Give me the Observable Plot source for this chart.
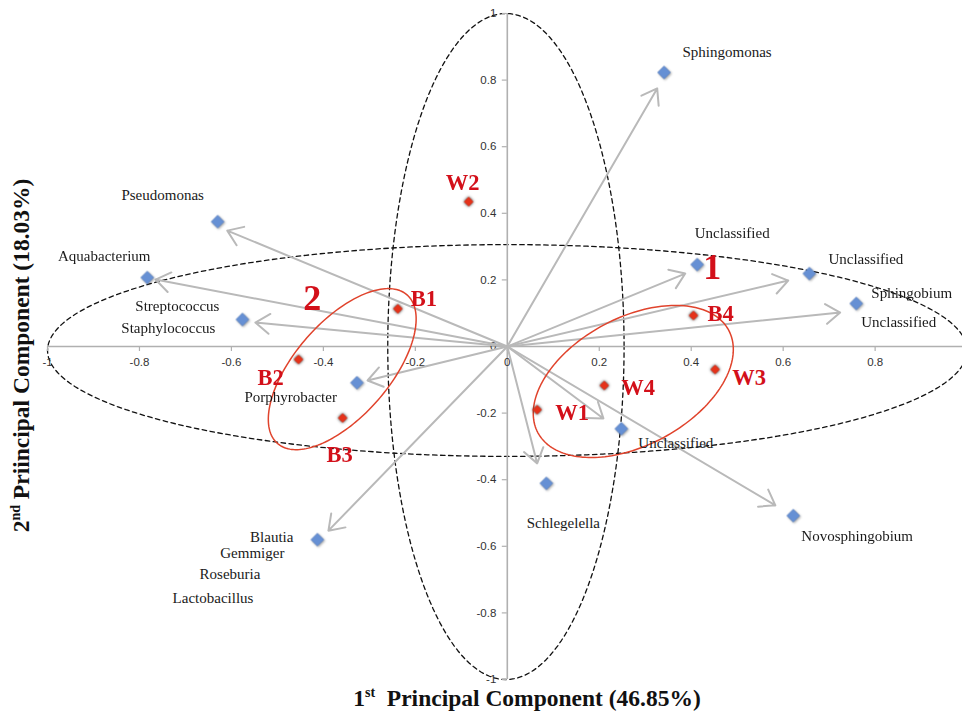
<!DOCTYPE html>
<html>
<head>
<meta charset="utf-8">
<script src="https://cdn.jsdelivr.net/npm/d3@7"></script>
<script src="https://cdn.jsdelivr.net/npm/@observablehq/plot@0.6"></script>
<style>
  html, body { margin: 0; padding: 0; background: #fff; }
  #chart svg { display: block; }
</style>
</head>
<body>
<div id="chart"></div>
<script>
// PCA biplot: sample scores (red) and genus loadings (blue) on the first two components

// sample scores
const sampleNames = ["W1", "W2", "W3", "W4", "B1", "B2", "B3", "B4"];
const samplePC1 = [0.065, -0.084, 0.452, 0.211, -0.238, -0.454, -0.358, 0.405];
const samplePC2 = [-0.190, 0.435, -0.069, -0.117, 0.113, -0.039, -0.215, 0.093];

// genus loadings
const loadingIds = ["Sphingomonas", "Unclassified-a", "Unclassified-b", "Sphingobium", "Pseudomonas",
  "Aquabacterium", "Streptococcus", "Porphyrobacter", "Blautia", "Unclassified-c", "Schlegelella", "Novosphingobium"];
const loadingPC1 = [0.341, 0.413, 0.657, 0.759, -0.630, -0.783, -0.576, -0.327, -0.413, 0.248, 0.085, 0.622];
const loadingPC2 = [0.823, 0.246, 0.219, 0.129, 0.375, 0.207, 0.081, -0.109, -0.580, -0.247, -0.411, -0.508];
// arrow tips, drawn a little short of each loading
const arrowTipPC1 = [0.326, 0.387, 0.611, 0.724, -0.609, -0.765, -0.548, -0.304, -0.389, 0.209, 0.065, 0.583];
const arrowTipPC2 = [0.775, 0.219, 0.198, 0.102, 0.348, 0.201, 0.072, -0.102, -0.553, -0.216, -0.351, -0.477];

// genus names written beside the loadings (several names can share one loading)
const genusLabelText = ["Sphingomonas", "Unclassified", "Unclassified", "Sphingobium", "Unclassified",
  "Pseudomonas", "Aquabacterium", "Streptococcus", "Staphylococcus", "Porphyrobacter",
  "Blautia", "Gemmiger", "Roseburia", "Lactobacillus", "Unclassified", "Schlegelella", "Novosphingobium"];
const genusLabelLoading = [0, 1, 2, 3, 3, 4, 5, 6, 6, 7, 8, 8, 8, 8, 9, 10, 11];

// ellipses: centre, two conjugate semi-axes (PC units)
const ellipseCenterPC1 = [0, -0.003, 0.274, -0.359];
const ellipseCenterPC2 = [-0.012, 0, -0.105, -0.068];
const ellipseAxisU = [[1.0, 0], [0.257, 0], [0.2074, 0.1541], [0.1409, 0.2231]];
const ellipseAxisV = [[0, 0.318], [0, 1.0], [0.0657, -0.1685], [0.0774, -0.0934]];
const clusterNames = ["1", "2"];          // cluster ellipses 2 and 3
const clusterEllipse = [2, 3];

// axis ticks and titles
const xTickValues = [-1, -0.8, -0.6, -0.4, -0.2, 0, 0.2, 0.4, 0.6, 0.8];
const yTickValues = [-1, -0.8, -0.6, -0.4, -0.2, 0, 0.2, 0.4, 0.6, 0.8, 1];
const xTitleParts = ["1", "st", "  Principal Component (46.85%)"];
const yTitleParts = ["2", "nd", " Priincipal Component (18.03%)"];

// ---- layout (label placement in pixels) ----
const genusLabelPlacement = [
  ["middle", 63, -20], ["middle", 35, -31], ["start", 19, -14], ["start", 15, -10], ["start", 5, 19],
  ["middle", -55, -26], ["middle", -43, -21], ["end", -23, -13], ["end", -27, 9], ["end", -20, 14],
  ["end", -24, -2], ["end", -33, 14], ["end", -57, 35], ["end", -64, 59],
  ["start", 17, 14], ["middle", 17, 40], ["start", 8, 21]
];
const sampleLabelPlacement = [
  ["start", 18, 3], ["middle", -6, -19], ["start", 17, 8], ["start", 17, 2],
  ["start", 13, -10], ["middle", -28, 18], ["middle", -3, 37], ["start", 14, -2]
];
const clusterLabelPlacement = [[79, -114], [-30, -71]];

const serif = "'Liberation Serif', 'Times New Roman', serif";
const sans = "'Liberation Sans', Arial, sans-serif";
const red = "#d3101a";

const samples = sampleNames.map((name, i) => ({name, pc1: samplePC1[i], pc2: samplePC2[i]}));
const loadings = loadingIds.map((id, i) => ({
  id, pc1: loadingPC1[i], pc2: loadingPC2[i], tip1: arrowTipPC1[i], tip2: arrowTipPC2[i]
}));

function outline(indices) {
  const pts = [];
  for (const e of indices) {
    for (const deg of d3.range(0, 361, 2)) {
      const t = deg * Math.PI / 180;
      pts.push({
        e,
        x: ellipseCenterPC1[e] + ellipseAxisU[e][0] * Math.cos(t) + ellipseAxisV[e][0] * Math.sin(t),
        y: ellipseCenterPC2[e] + ellipseAxisU[e][1] * Math.cos(t) + ellipseAxisV[e][1] * Math.sin(t)
      });
    }
  }
  return pts;
}

const marks = [
  // reference ellipses
  Plot.line(outline([0, 1]), {x: "x", y: "y", z: "e", stroke: "#111", strokeWidth: 1.3, strokeDasharray: "4.5,3.5"}),
  // axes through the origin
  Plot.ruleY([0], {x1: -1, x2: 0.99, stroke: "#b0b0b0", strokeWidth: 1.6}),
  Plot.ruleX([0], {y1: -1, y2: 1, stroke: "#b0b0b0", strokeWidth: 1.6}),
  Plot.ruleX(xTickValues, {x: d => d, y1: 0, y2: 0, insetBottom: -5, stroke: "#b0b0b0", strokeWidth: 1.2}),
  Plot.ruleY(yTickValues, {y: d => d, x1: 0, x2: 0, insetLeft: -5, stroke: "#b0b0b0", strokeWidth: 1.2}),
  Plot.text(xTickValues, {x: d => d, y: 0, text: d => String(d), dy: 16, fontFamily: sans, fontSize: 11.5, fill: "#333"}),
  Plot.text(yTickValues, {x: 0, y: d => d, text: d => String(d), dx: -11, textAnchor: "end", fontFamily: sans, fontSize: 11.5, fill: "#333"}),
  // loading vectors
  Plot.arrow(loadings, {x1: 0, y1: 0, x2: "tip1", y2: "tip2", stroke: "#b9b9b9", strokeWidth: 2, headLength: 13, headAngle: 70}),
  // cluster ellipses
  Plot.line(outline([2, 3]), {x: "x", y: "y", z: "e", stroke: "#e0432c", strokeWidth: 1.5}),
  // points
  Plot.dot(loadings, {x: "pc1", y: "pc2", symbol: "diamond2", r: 5.8, fill: "#6690d4", stroke: "#4f78bd", strokeWidth: 0.6,
    imageFilter: "drop-shadow(1px 1.5px 1.2px rgba(0,0,0,0.35))"}),
  Plot.dot(samples, {x: "pc1", y: "pc2", symbol: "diamond2", r: 4.3, fill: "#e5321a",
    imageFilter: "drop-shadow(0px 0px 1.4px rgba(30,30,30,0.95))"})
];

// genus names
genusLabelText.forEach((label, i) => {
  const [anchor, dx, dy] = genusLabelPlacement[i];
  const l = loadings[genusLabelLoading[i]];
  marks.push(Plot.text([{pc1: l.pc1, pc2: l.pc2, label}], {
    x: "pc1", y: "pc2", text: "label", textAnchor: anchor, dx, dy,
    fontFamily: serif, fontSize: 15, fill: "#1a1a1a"
  }));
});

// sample names
samples.forEach((s, i) => {
  const [anchor, dx, dy] = sampleLabelPlacement[i];
  marks.push(Plot.text([s], {
    x: "pc1", y: "pc2", text: "name", textAnchor: anchor, dx, dy,
    fontFamily: serif, fontSize: 22.5, fontWeight: "bold", fill: red
  }));
});

// cluster numbers
clusterNames.forEach((name, k) => {
  const e = clusterEllipse[k];
  const [dx, dy] = clusterLabelPlacement[k];
  marks.push(Plot.text([{pc1: ellipseCenterPC1[e], pc2: ellipseCenterPC2[e], name}], {
    x: "pc1", y: "pc2", text: "name", dx, dy,
    fontFamily: serif, fontSize: 36, fontWeight: "bold", fill: red
  }));
});

// axis titles
marks.push(Plot.text([xTitleParts.join("")], {
  frameAnchor: "bottom", text: d => d, dx: 22, dy: 26, textAnchor: "middle",
  fontFamily: serif, fontSize: 23.5, fontWeight: "bold", fill: "#111"
}));
marks.push(Plot.text([yTitleParts.join("")], {
  frameAnchor: "left", text: d => d, rotate: -90, dx: -26, dy: 9, textAnchor: "middle",
  fontFamily: serif, fontSize: 23.5, fontWeight: "bold", fill: "#111"
}));

const svg = Plot.plot({
  width: 962,
  height: 715,
  marginLeft: 47,
  marginRight: 0,
  marginTop: 13,
  marginBottom: 36,
  x: {domain: [-1, 0.99], axis: null},
  y: {domain: [-1, 1], axis: null},
  style: {background: "white"},
  marks
});

// ordinal suffixes of the axis titles as raised tspans
const SVGNS = "http://www.w3.org/2000/svg";
svg.querySelectorAll("text").forEach(t => {
  const parts = [xTitleParts, yTitleParts].find(p => p.join("") === t.textContent);
  if (!parts) return;
  t.textContent = "";
  t.style.whiteSpace = "pre";
  parts.forEach((s, k) => {
    const ts = document.createElementNS(SVGNS, "tspan");
    ts.textContent = s;
    if (k === 1) { ts.setAttribute("dy", "-9"); ts.setAttribute("font-size", "14"); }
    if (k === 2) { ts.setAttribute("dy", "9"); }
    t.appendChild(ts);
  });
});

document.getElementById("chart").appendChild(svg);
</script>
</body>
</html>
